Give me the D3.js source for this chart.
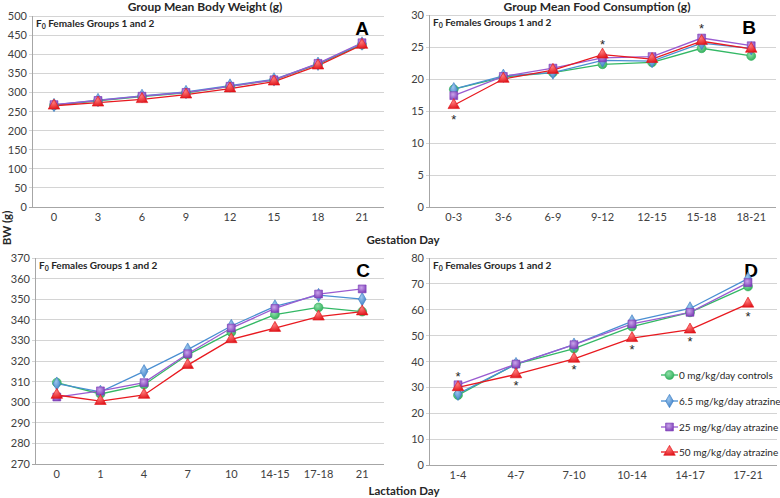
<!DOCTYPE html>
<html><head><meta charset="utf-8">
<script src="https://cdn.jsdelivr.net/npm/d3@7"></script>
<style>
body{margin:0;background:#fff;}
svg{display:block;font-family:Lato,"Open Sans",sans-serif;}
</style></head>
<body><svg id="c" width="780" height="498"></svg>
<script>
const seriesNames = ["0 mg/kg/day controls","6.5 mg/kg/day atrazine","25 mg/kg/day atrazine","50 mg/kg/day atrazine"];

// Panel A: body weight, gestation
const catsA = ["0","3","6","9","12","15","18","21"];
const a0   = [266,278,289,299,316,332,374,425];
const a65  = [267,280,291,301,318,334,375,428];
const a25  = [268,279,290,300,316,333,376,430];
const a50  = [265,273,282,294,310,328,370,424];
const ticksA = [0,50,100,150,200,250,300,350,400,450,500];

// Panel B: food consumption, gestation
const catsB = ["0-3","3-6","6-9","9-12","12-15","15-18","18-21"];
const b0   = [18.4,20.3,21.0,22.3,22.6,24.8,23.6];
const b65  = [18.4,20.5,21.0,22.9,22.8,25.6,24.8];
const b25  = [17.4,20.4,21.7,23.3,23.5,26.4,25.2];
const b50  = [15.9,20.0,21.4,23.8,23.1,25.9,24.7];
const ticksB = [0,5,10,15,20,25,30];
const starsB = [["0-3",13.9],["9-12",25.6],["15-18",28.2]];

// Panel C: body weight, lactation
const catsC = ["0","1","4","7","10","14-15","17-18","21"];
const c0   = [309.5,304,308.5,323,334,342.5,346,344];
const c65  = [309,305,315,325.5,337,346.5,352,350];
const c25  = [302.5,305.5,309.5,323.5,336,345.5,352.5,355];
const c50  = [303.5,300.5,303.5,318,330.5,336,341.5,344];
const ticksC = [270,280,290,300,310,320,330,340,350,360,370];

// Panel D: food consumption, lactation
const catsD = ["1-4","4-7","7-10","10-14","14-17","17-21"];
const d0   = [27,39,45,53.5,59,69];
const d65  = [27.5,39,46.5,55.5,60.5,72];
const d25  = [31,39,46.5,54.5,59,70.5];
const d50  = [30,35,41,49,52.3,62.3];
const ticksD = [0,10,20,30,40,50,60,70,80];
const starsD = [["1-4",34.6],["4-7",31.2],["7-10",37.3],["10-14",45.2],["14-17",48.2],["17-21",58]];

const styles = [
  {line:"#33b865", fill:"#2fae5a", light:"#8fe0a8", shape:"circle"},
  {line:"#4a8fd2", fill:"#3b7dc4", light:"#9cc6ee", shape:"diamond"},
  {line:"#9a5bd0", fill:"#7e3fb8", light:"#c9a4ea", shape:"square"},
  {line:"#e8191f", fill:"#e0141a", light:"#ff7a7a", shape:"triangle"}
];

const svg = d3.select("#c");
const defs = svg.append("defs");
styles.forEach((s,i)=>{
  const g = defs.append("radialGradient").attr("id","g"+i).attr("cx","40%").attr("cy","35%").attr("r","70%");
  g.append("stop").attr("offset","0%").attr("stop-color",s.light);
  g.append("stop").attr("offset","100%").attr("stop-color",s.fill);
});

function marker(sel, shape, i){
  const sym = {circle:d3.symbolCircle, diamond:d3.symbolDiamond, square:d3.symbolSquare, triangle:d3.symbolTriangle}[shape];
  const size = {circle:62, diamond:52, square:62, triangle:58}[shape];
  sel.append("path").attr("d", d3.symbol(sym, size)())
    .attr("fill","url(#g"+i+")").attr("stroke", styles[i].fill).attr("stroke-width",0.6);
}

function panel(o){
  const g = svg.append("g");
  const x = d3.scaleBand().domain(o.cats).range([o.left,o.right]);
  const y = d3.scaleLinear().domain([o.ticks[0], o.ticks[o.ticks.length-1]]).range([o.bottom,o.top]);
  g.selectAll(".grid").data(o.ticks).enter().append("line")
    .attr("x1",o.left-3).attr("x2",o.right).attr("y1",d=>y(d)).attr("y2",d=>y(d))
    .attr("stroke",d=>d===o.ticks[0]?"#a6a6a6":"#d4d4d4").attr("stroke-width",1).attr("shape-rendering","crispEdges");
  g.append("line").attr("x1",o.left).attr("x2",o.left).attr("y1",o.top).attr("y2",o.bottom)
    .attr("stroke","#a6a6a6").attr("shape-rendering","crispEdges");
  g.selectAll(".yl").data(o.ticks).enter().append("text")
    .attr("x",o.left-5).attr("y",d=>y(d)+4).attr("text-anchor","end")
    .attr("font-size","11px").attr("fill","#404040").text(d=>d);
  g.selectAll(".xl").data(o.cats).enter().append("text")
    .attr("x",d=>x(d)+x.bandwidth()/2).attr("y",o.bottom+14).attr("text-anchor","middle")
    .attr("font-size","11px").attr("fill","#404040").text(d=>d);
  const st = g.append("text").attr("x",o.left+4).attr("y",o.top+11).attr("font-size","10px").attr("font-weight","bold").attr("fill","#262626");
  st.append("tspan").text("F");
  st.append("tspan").attr("font-size","7px").attr("dy",2).text("0");
  st.append("tspan").attr("dy",-2).text(" Females Groups 1 and 2");
  g.append("text").attr("x",o.letterX).attr("y",o.top+19).attr("text-anchor","middle")
    .attr("font-family","'Liberation Sans',Arial,sans-serif").attr("font-weight","bold").attr("font-size","19px").attr("fill","#000").text(o.letter);
  const cx = d=>x(d)+x.bandwidth()/2;
  o.series.forEach((vals,i)=>{
    const pts = o.cats.map((c,j)=>[cx(c), y(vals[j])]);
    g.append("path").attr("d", d3.line()(pts)).attr("fill","none").attr("stroke",styles[i].line).attr("stroke-width",1.3);
  });
  o.series.forEach((vals,i)=>{
    o.cats.forEach((c,j)=>{
      const m = g.append("g").attr("transform",`translate(${cx(c)},${y(vals[j])})`);
      marker(m, styles[i].shape, i);
    });
  });
  (o.stars||[]).forEach(s=>{
    g.append("text").attr("x",cx(s[0])).attr("y",y(s[1])+6).attr("text-anchor","middle")
      .attr("font-family","'Liberation Sans',Arial,sans-serif").attr("font-size","13px").attr("fill","#262626").text("*");
  });
  if(o.title){
    g.append("text").attr("x",o.titleX).attr("y",11).attr("text-anchor","middle")
      .attr("font-size","12px").attr("font-weight","bold").attr("fill","#262626").text(o.title);
  }
  return {x,y};
}

panel({cats:catsA, series:[a0,a65,a25,a50], ticks:ticksA, left:32, right:384, top:16, bottom:207,
  letter:"A", letterX:362, title:"Group Mean Body Weight (g)", titleX:205});
panel({cats:catsB, series:[b0,b65,b25,b50], ticks:ticksB, left:429, right:776, top:15, bottom:207,
  letter:"B", letterX:749, stars:starsB, title:"Group Mean Food Consumption (g)", titleX:597});
panel({cats:catsC, series:[c0,c65,c25,c50], ticks:ticksC, left:35, right:384, top:258, bottom:464,
  letter:"C", letterX:363});
panel({cats:catsD, series:[d0,d65,d25,d50], ticks:ticksD, left:429, right:777, top:258, bottom:465,
  letter:"D", letterX:751, stars:starsD});

const legY = [375,401,427,452];
seriesNames.forEach((n,i)=>{
  const lg = svg.append("g").attr("transform",`translate(661,${legY[i]})`);
  lg.append("rect").attr("x",-2).attr("y",-9).attr("width",114).attr("height",18).attr("fill","#fff");
  lg.append("line").attr("x1",0).attr("x2",17).attr("y1",0).attr("y2",0).attr("stroke",styles[i].line).attr("stroke-width",1.3);
  const m = lg.append("g").attr("transform","translate(8.5,0)");
  marker(m, styles[i].shape, i);
  lg.append("text").attr("x",18).attr("y",3.5).attr("font-size","10px").attr("fill","#262626").text(n);
});

svg.append("text").attr("transform","translate(11,228) rotate(-90)").attr("text-anchor","middle")
  .attr("font-size","11.5px").attr("font-weight","bold").attr("fill","#262626").text("BW (g)");
svg.append("text").attr("x",403).attr("y",244).attr("text-anchor","middle")
  .attr("font-size","11.5px").attr("font-weight","bold").attr("fill","#262626").text("Gestation Day");
svg.append("text").attr("x",404).attr("y",495).attr("text-anchor","middle")
  .attr("font-size","11.5px").attr("font-weight","bold").attr("fill","#262626").text("Lactation Day");
</script></body></html>
